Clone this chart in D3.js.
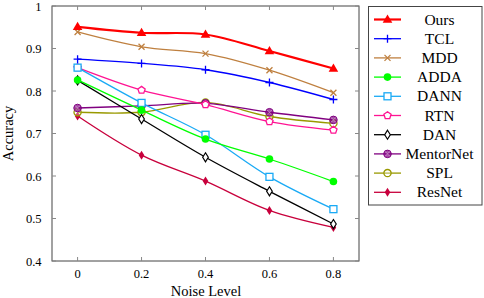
<!DOCTYPE html>
<html>
<head>
<meta charset="utf-8">
<script src="https://cdn.jsdelivr.net/npm/d3@7.9.0/dist/d3.min.js"></script>
<style>
  body { margin: 0; background: #fff; }
  svg text { font-family: "Liberation Serif", "DejaVu Serif", serif; fill: #000; }
</style>
</head>
<body>
<svg id="chart" width="484" height="298"></svg>
<script>
// noise levels on x
const noise = [0, 0.2, 0.4, 0.6, 0.8];
const yTicks = [0.4, 0.5, 0.6, 0.7, 0.8, 0.9, 1];

// accuracy per method
const ours      = [0.951, 0.937, 0.933, 0.894, 0.853];
const tcl       = [0.875, 0.865, 0.850, 0.820, 0.780];
const mdd       = [0.939, 0.904, 0.888, 0.849, 0.796];
const adda      = [0.826, 0.755, 0.687, 0.640, 0.587];
const dann      = [0.855, 0.772, 0.697, 0.598, 0.522];
const rtn       = [0.855, 0.802, 0.768, 0.728, 0.708];
const dan       = [0.825, 0.734, 0.644, 0.564, 0.487];
const mentorNet = [0.760, 0.765, 0.771, 0.750, 0.732];
const spl       = [0.750, 0.750, 0.773, 0.740, 0.724];
const resNet    = [0.741, 0.649, 0.588, 0.519, 0.479];

const methods = [
  { name: "Ours",      vals: ours,      color: "#ff0000", mark: "triangle", width: 2.2 },
  { name: "TCL",       vals: tcl,       color: "#0000ff", mark: "plus" },
  { name: "MDD",       vals: mdd,       color: "#bf8040", mark: "cross" },
  { name: "ADDA",      vals: adda,      color: "#00ff00", mark: "dot" },
  { name: "DANN",      vals: dann,      color: "#1aaaf5", mark: "square" },
  { name: "RTN",       vals: rtn,       color: "#ff1493", mark: "pentagon" },
  { name: "DAN",       vals: dan,       color: "#000000", mark: "diamond" },
  { name: "MentorNet", vals: mentorNet, color: "#800080", mark: "otimes" },
  { name: "SPL",       vals: spl,       color: "#999900", mark: "circle" },
  { name: "ResNet",    vals: resNet,    color: "#c8003c", mark: "diamondFill" }
];

const svg = d3.select("#chart");
const pLeft = 52, pRight = 359, pTop = 6, pBottom = 261;

const x = d3.scaleLinear().domain([-0.08, 0.88]).range([pLeft, pRight]);
const y = d3.scaleLinear().domain([0.4, 1]).range([pBottom, pTop]);

// frame
svg.append("rect")
  .attr("x", pLeft).attr("y", pTop)
  .attr("width", pRight - pLeft).attr("height", pBottom - pTop)
  .attr("fill", "none").attr("stroke", "#444").attr("stroke-width", 1);

// ticks (inward, both sides)
const tickCol = "#888";
noise.forEach(v => {
  svg.append("line").attr("x1", x(v)).attr("x2", x(v)).attr("y1", pBottom).attr("y2", pBottom - 4)
    .attr("stroke", tickCol);
  svg.append("line").attr("x1", x(v)).attr("x2", x(v)).attr("y1", pTop).attr("y2", pTop + 4)
    .attr("stroke", tickCol);
  svg.append("text").attr("x", x(v)).attr("y", pBottom + 16.5)
    .attr("text-anchor", "middle").attr("font-size", 12.5).text(v);
});
yTicks.forEach(v => {
  svg.append("line").attr("x1", pLeft).attr("x2", pLeft + 4).attr("y1", y(v)).attr("y2", y(v))
    .attr("stroke", tickCol);
  svg.append("line").attr("x1", pRight).attr("x2", pRight - 4).attr("y1", y(v)).attr("y2", y(v))
    .attr("stroke", tickCol);
  svg.append("text").attr("x", 41.5).attr("y", y(v) + 4.5)
    .attr("text-anchor", "end").attr("font-size", 12.5).text(v);
});

svg.append("text").attr("x", (pLeft + pRight) / 2 + 0.5).attr("y", 295.5)
  .attr("text-anchor", "middle").attr("font-size", 14.5).text("Noise Level");
svg.append("text").attr("transform", `translate(13,${(pTop + pBottom) / 2}) rotate(-90)`)
  .attr("text-anchor", "middle").attr("font-size", 14.5).text("Accuracy");

function drawMark(g, type, cx, cy, color) {
  const s = g.append("g").attr("transform", `translate(${cx},${cy})`);
  if (type === "triangle") {
    s.append("path").attr("d", "M0,-5L4.8,3.2L-4.8,3.2Z").attr("fill", color);
  } else if (type === "plus") {
    s.append("path").attr("d", "M-4,0H4M0,-4V4").attr("stroke", color).attr("stroke-width", 1.3);
  } else if (type === "cross") {
    s.append("path").attr("d", "M-3,-3L3,3M-3,3L3,-3").attr("stroke", color).attr("stroke-width", 1.3);
  } else if (type === "dot") {
    s.append("circle").attr("r", 3.8).attr("fill", color);
  } else if (type === "square") {
    s.append("rect").attr("x", -3.5).attr("y", -3.5).attr("width", 7).attr("height", 7)
      .attr("fill", "#fff").attr("stroke", color).attr("stroke-width", 1.3);
  } else if (type === "pentagon") {
    const pts = d3.range(5).map(i => {
      const a = -Math.PI / 2 + i * 2 * Math.PI / 5;
      return [3.8 * Math.cos(a), 3.8 * Math.sin(a)];
    });
    s.append("path").attr("d", "M" + pts.join("L") + "Z")
      .attr("fill", "#fff").attr("stroke", color).attr("stroke-width", 1.3);
  } else if (type === "diamond") {
    s.append("path").attr("d", "M0,-4.5L2.8,0L0,4.5L-2.8,0Z")
      .attr("fill", "#fff").attr("stroke", color).attr("stroke-width", 1.2);
  } else if (type === "otimes") {
    s.append("circle").attr("r", 3.8).attr("fill", color).attr("fill-opacity", 0.7)
      .attr("stroke", color).attr("stroke-width", 1);
    s.append("path").attr("d", "M-2.5,-2.5L2.5,2.5M-2.5,2.5L2.5,-2.5")
      .attr("stroke", "#fff").attr("stroke-opacity", 0.5).attr("stroke-width", 0.8);
  } else if (type === "circle") {
    s.append("circle").attr("r", 3.6).attr("fill", "#fff").attr("fill-opacity", 0.3)
      .attr("stroke", color).attr("stroke-width", 1.3);
  } else if (type === "diamondFill") {
    s.append("path").attr("d", "M0,-4.5L2.8,0L0,4.5L-2.8,0Z").attr("fill", color);
  }
}

const line = d3.line()
  .x((d, i) => x(noise[i]))
  .y(d => y(d))
  .curve(d3.curveCatmullRom.alpha(0.5));

const plot = svg.append("g");
methods.slice().reverse().forEach(m => {
  plot.append("path").datum(m.vals).attr("d", line)
    .attr("fill", "none").attr("stroke", m.color).attr("stroke-width", m.width || 1.3);
  m.vals.forEach((v, i) => drawMark(plot, m.mark, x(noise[i]), y(v), m.color));
});

// legend
const lg = svg.append("g");
lg.append("rect").attr("x", 368.5).attr("y", 6.5).attr("width", 113.5).attr("height", 198.5)
  .attr("fill", "#fff").attr("stroke", "#444").attr("stroke-width", 1);
methods.forEach((m, i) => {
  const ly = 19.5 + i * 19.2;
  lg.append("line").attr("x1", 374).attr("x2", 401).attr("y1", ly).attr("y2", ly)
    .attr("stroke", m.color).attr("stroke-width", m.width || 1.3);
  drawMark(lg, m.mark, 387.5, ly, m.color);
  lg.append("text").attr("x", 439.5).attr("y", ly + 5).attr("text-anchor", "middle")
    .attr("font-size", 15.5).text(m.name);
});
</script>
</body>
</html>
